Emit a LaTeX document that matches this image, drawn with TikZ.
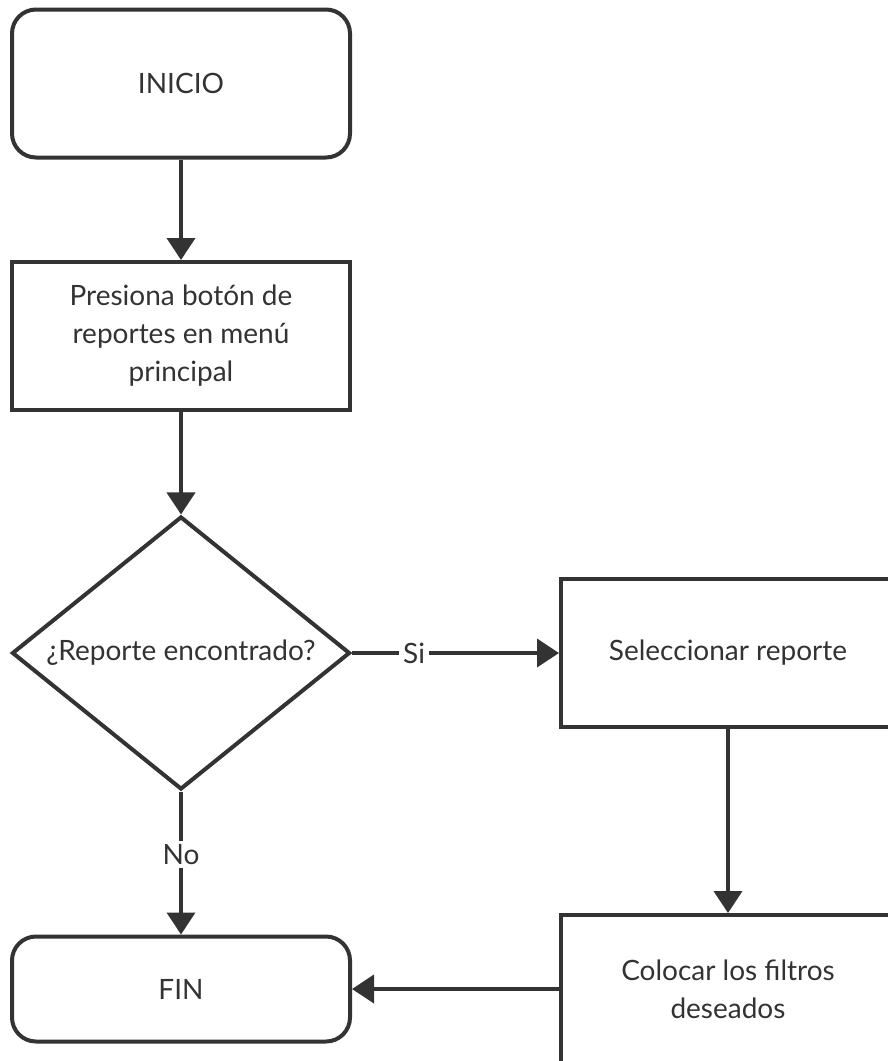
\documentclass[tikz,border=0pt]{standalone}
\usepackage{fontspec}
\setmainfont{Lato}
\usetikzlibrary{shapes.geometric,arrows.meta}
\definecolor{ink}{HTML}{333333}

\begin{document}
\begin{tikzpicture}[x=1pt,y=-1pt,
  every node/.style={font=\fontsize{28}{38}\selectfont, text=ink},
  box/.style={draw=ink, line width=4pt, fill=white, rectangle,
    minimum width=338pt, minimum height=148pt, align=center, inner sep=0pt},
  term/.style={box, rounded corners=24pt},
  decision/.style={draw=ink, line width=4pt, fill=white, diamond, aspect=1.24,
    minimum width=338pt, minimum height=273pt, inner sep=0pt},
  flow/.style={draw=ink, line width=4pt, -{Triangle[length=22pt,width=28pt]}},
  lbl/.style={fill=white, inner sep=4pt}
]
\useasboundingbox (0,0) rectangle (888,1061);
\clip (0,0) rectangle (888,1061);

% Main column
\node[term] (ini) at (181,83.5) {INICIO};
\node[box] (pres) at (181,336) {Presiona botón de\\reportes en menú\\principal};
\node[decision] (dec) at (181,653) {¿Reporte encontrado?};
\node[term, minimum height=105pt] (fin) at (181,989) {FIN};

% Right column
\node[box, minimum width=334pt] (sel) at (728,653) {Seleccionar reporte};
\node[box, minimum width=334pt] (col) at (728,989) {Colocar los filtros\\deseados};

% Connectors
\draw[flow] (ini) -- (pres);
\draw[flow] (pres) -- (dec);
\draw[flow] (dec.east) -- node[lbl, pos=0.3] {Si} (sel.west);
\draw[flow] (dec.south) -- node[lbl, pos=0.44, inner sep=3pt] {No} (fin.north);
\draw[flow] (sel) -- (col);
\draw[flow] (col.west) -- (fin.east);
\end{tikzpicture}
\end{document}
